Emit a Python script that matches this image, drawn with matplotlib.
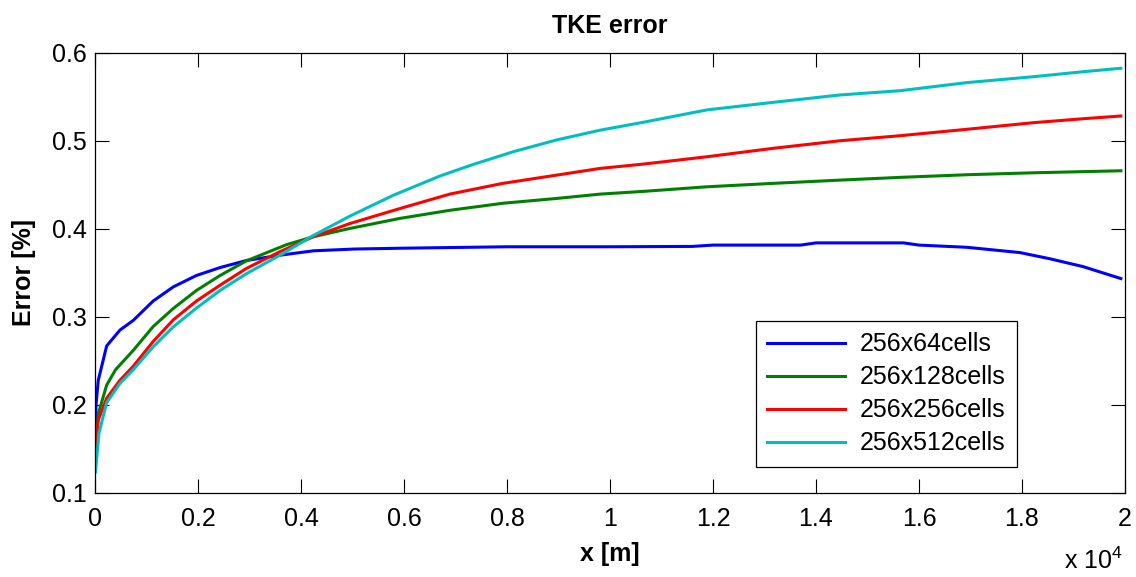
import matplotlib
matplotlib.use('Agg')
from matplotlib import pyplot as plt
from matplotlib.ticker import FuncFormatter
import numpy as np

plt.rcParams['font.family'] = ['Liberation Sans', 'DejaVu Sans']
plt.rcParams['mathtext.fontset'] = 'custom'
plt.rcParams['mathtext.rm'] = 'Liberation Sans'

# x in metres, error in percent
x_64 = [10, 20, 64, 227, 485, 744, 1130, 1520, 1970, 2430, 2940, 3590, 4240, 5020, 6000,
        8000, 10000, 11600, 12000, 13700, 14000, 15700, 16000, 16930, 17960, 18540, 19190, 19920]
y_64 = [0.172, 0.20, 0.228, 0.267, 0.285, 0.296, 0.318, 0.334, 0.347, 0.356, 0.364, 0.370,
        0.375, 0.377, 0.378, 0.3796, 0.3796, 0.380, 0.3815, 0.3815, 0.384, 0.384, 0.3815,
        0.379, 0.373, 0.366, 0.357, 0.3435]

x_128 = [10, 64, 227, 400, 744, 1130, 1520, 1970, 2430, 2940, 3720, 4240, 4950, 5920, 6890,
         7920, 8970, 9810, 10650, 11880, 13170, 14470, 15630, 16410, 16930, 18220, 19920]
y_128 = [0.145, 0.19, 0.2225, 0.24, 0.262, 0.289, 0.3095, 0.330, 0.347, 0.3636, 0.382, 0.391,
         0.4004, 0.4118, 0.421, 0.429, 0.4345, 0.4394, 0.4425, 0.4477, 0.4516, 0.4553, 0.4584,
         0.4602, 0.4614, 0.4636, 0.4659]

x_256 = [10, 64, 227, 485, 744, 1130, 1520, 1970, 2430, 2940, 3590, 4240, 4950, 5920, 6890,
         7920, 8970, 9810, 10650, 11880, 13170, 14470, 15630, 16930, 18220, 19190, 19920]
y_256 = [0.141, 0.183, 0.2076, 0.228, 0.244, 0.272, 0.2966, 0.318, 0.336, 0.355, 0.374, 0.391,
         0.406, 0.423, 0.4394, 0.4516, 0.461, 0.4686, 0.4735, 0.4818, 0.4914, 0.500, 0.5057,
         0.513, 0.5205, 0.525, 0.5281]

x_512 = [10, 78, 227, 485, 744, 1130, 1520, 1970, 2430, 2940, 3590, 4240, 4950, 5790, 6700,
         7340, 8120, 8970, 9810, 10650, 11880, 13170, 14470, 15630, 16930, 18220, 19190, 19920]
y_512 = [0.124, 0.168, 0.2026, 0.2245, 0.240, 0.266, 0.2886, 0.310, 0.330, 0.349, 0.370, 0.3924,
         0.4144, 0.438, 0.460, 0.473, 0.4875, 0.501, 0.512, 0.521, 0.535, 0.5436, 0.552, 0.5568,
         0.566, 0.5727, 0.5784, 0.5823]

labels = ['256x64cells', '256x128cells', '256x256cells', '256x512cells']
colors = ['#0000ff', '#008000', '#ff0000', '#00bfbf']

fig = plt.figure(figsize=(11.36, 5.77), dpi=100)
ax = fig.add_axes([0.0836, 0.1456, 0.9067, 0.7631])

for xs, ys, lab, c in zip([x_64, x_128, x_256, x_512], [y_64, y_128, y_256, y_512], labels, colors):
    ax.plot(xs, ys, color=c, lw=2.2, label=lab)

ax.set_xlim(0, 20000)
ax.set_ylim(0.1, 0.6)
ax.set_xticks(np.arange(0, 20001, 2000))
ax.set_yticks([0.1, 0.2, 0.3, 0.4, 0.5, 0.6])
ax.xaxis.set_major_formatter(FuncFormatter(lambda v, p: f"{v/1e4:g}"))
ax.yaxis.set_major_formatter(FuncFormatter(lambda v, p: f"{v:g}"))
ax.tick_params(direction='in', length=10, width=0.8, top=True, right=True, labelsize=18)
ax.tick_params(axis='x', pad=10)
ax.tick_params(axis='y', pad=6)
for s in ax.spines.values():
    s.set_linewidth(0.9)

ax.set_title('TKE error', fontsize=18, fontweight='bold', pad=14)
ax.set_xlabel('x [m]', fontsize=18, fontweight='bold', labelpad=8)
ax.set_ylabel('Error [%]', fontsize=18, fontweight='bold', labelpad=11)
fig.text(0.988, 0.006, 'x 10$^{4}$', fontsize=18, ha='right', va='bottom')

leg = ax.legend(loc='lower left', bbox_to_anchor=(0.6417, 0.0597), borderaxespad=0,
                fontsize=18, handlelength=3.1, fancybox=False, framealpha=1,
                edgecolor='black', labelspacing=0.36, borderpad=0.45, handletextpad=0.6)
leg.get_frame().set_linewidth(0.9)

fig.savefig('out.png', dpi=100)
